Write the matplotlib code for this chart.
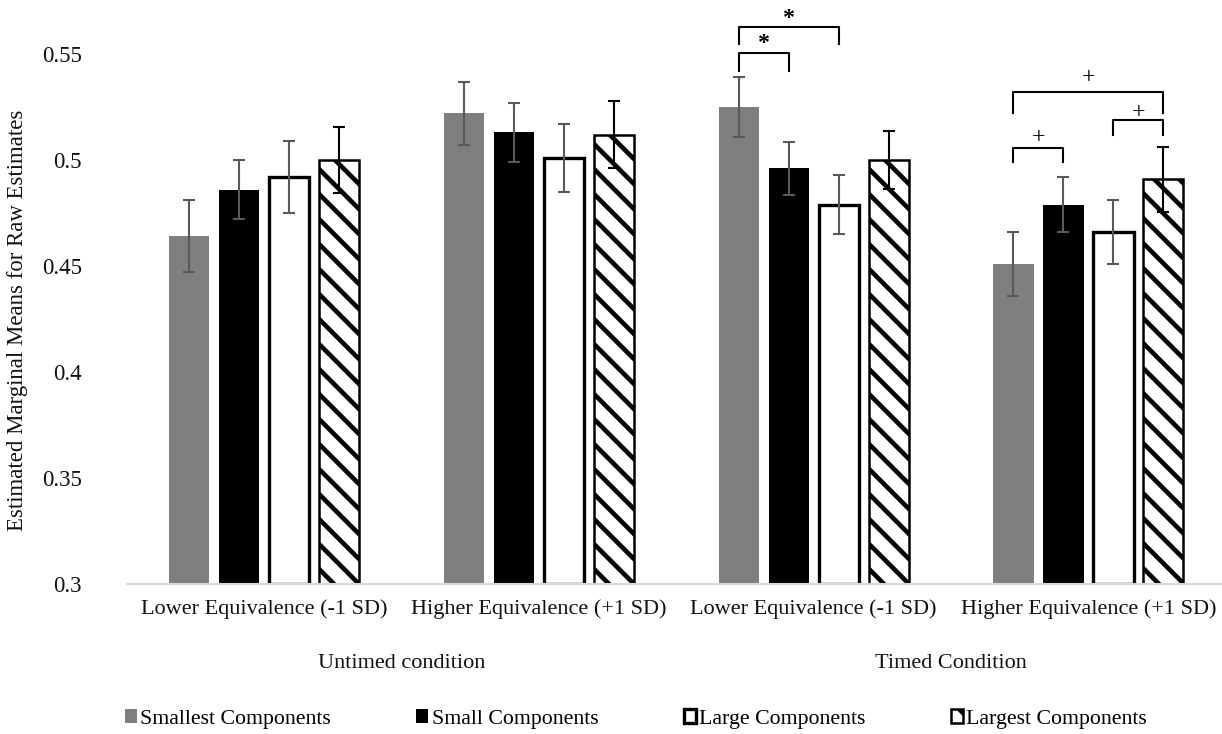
import matplotlib.pyplot as plt
import matplotlib.transforms as mtransforms
import numpy as np
from matplotlib.patches import Patch

categories = ["Lower Equivalence (-1 SD)", "Higher Equivalence (+1 SD)",
              "Lower Equivalence (-1 SD)", "Higher Equivalence (+1 SD)"]
conditions = ["Untimed condition", "Timed Condition"]
series_names = ["Smallest Components", "Small Components",
                "Large Components", "Largest Components"]

# estimated marginal means, one list per component size
smallest = [0.464, 0.522, 0.525, 0.451]
small = [0.486, 0.513, 0.496, 0.479]
large = [0.492, 0.501, 0.479, 0.466]
largest = [0.500, 0.512, 0.500, 0.491]

# error bar half-widths
smallest_err = [0.017, 0.015, 0.014, 0.015]
small_err = [0.014, 0.014, 0.0125, 0.013]
large_err = [0.017, 0.016, 0.014, 0.015]
largest_err = [0.0155, 0.016, 0.0135, 0.0153]

yticks = [0.3, 0.35, 0.4, 0.45, 0.5, 0.55]
ytick_labels = ["0.3", "0.35", "0.4", "0.45", "0.5", "0.55"]

# significance brackets: (category, bar a, bar b, bracket top, leg end, mark centre, mark)
brackets = [
    (2, 0, 1, 0.5506, 0.5420, 0.5579, "*"),
    (2, 0, 2, 0.5629, 0.5547, 0.5695, "*"),
    (3, 0, 1, 0.5057, 0.4992, 0.5110, "+"),
    (3, 2, 3, 0.5189, 0.5118, 0.5228, "+"),
    (3, 0, 3, 0.5322, 0.5223, 0.5392, "+"),
]

plt.rcParams["font.family"] = ["Liberation Serif", "DejaVu Serif"]
plt.rcParams["hatch.linewidth"] = 2.2
plt.rcParams["hatch.color"] = "black"

W, H, DPI = 1222, 734, 150
fig = plt.figure(figsize=(W / DPI, H / DPI), dpi=DPI)
ax = fig.add_axes([127 / W, 1 - 584 / H, (W - 127) / W, 583 / H])

x = np.arange(len(categories))
pitch = 0.182  # distance between bars inside a group
width = 0.146

values = [smallest, small, large, largest]
errors = [smallest_err, small_err, large_err, largest_err]
styles = [
    dict(facecolor="#7f7f7f", edgecolor="none", linewidth=0),
    dict(facecolor="black", edgecolor="black", linewidth=0),
    dict(facecolor="white", edgecolor="black", linewidth=1.6),
    dict(facecolor="white", edgecolor="black", linewidth=1.2, hatch="\\\\"),
]
err_colors = ["#595959", "#595959", "#595959", "black"]
base = 0.3

for j in range(4):
    pos = x + (j - 1.5) * pitch
    v = np.array(values[j])
    ax.bar(pos, v - base, width, bottom=base, zorder=2, **styles[j])
    ax.errorbar(pos, v, yerr=errors[j], fmt="none", ecolor=err_colors[j],
                elinewidth=1.0, capsize=2.9, capthick=1.0, zorder=3)

# significance brackets
mark_offset = {"*": 5.6, "+": 2.9}
for c, a, b, top, leg, mark_y, mark in brackets:
    x1 = x[c] + (a - 1.5) * pitch
    x2 = x[c] + (b - 1.5) * pitch
    ax.plot([x1, x1, x2, x2], [leg, top, top, leg], color="black", lw=1.0,
            solid_joinstyle="round", clip_on=False, zorder=4)
    ax.annotate(mark, xy=((x1 + x2) / 2, mark_y), xytext=(0, -mark_offset[mark]),
                textcoords="offset points", ha="center", va="baseline",
                fontsize=11.5, fontweight="bold" if mark == "*" else "normal",
                annotation_clip=False)

ax.set_xlim(-0.5, -0.5 + (W - 127) / 274.7)
ax.set_ylim(0.3, 0.575)
ax.set_yticks(yticks, ytick_labels)
ax.set_xticks(x, categories)
ax.tick_params(axis="y", length=0, pad=21.6, labelsize=11, labelcolor="#111111")
ax.tick_params(axis="x", length=0, pad=7.5, labelsize=10.7, labelcolor="#111111")

for side in ["left", "top", "right"]:
    ax.spines[side].set_visible(False)
ax.spines["bottom"].set_color("#d9d9d9")
ax.spines["bottom"].set_linewidth(1.0)

# condition labels under each pair of categories
trans = mtransforms.blended_transform_factory(ax.transData, fig.transFigure)
for k, name in enumerate(conditions):
    ax.text(2 * k + 0.5, 1 - 664 / H, name, transform=trans, ha="center",
            va="center", fontsize=10.7, color="#111111")

fig.text(18 / W, 1 - 320 / H, "Estimated Marginal Means for Raw Estimates",
         rotation=90, ha="center", va="center", fontsize=10.9, color="#111111")

handles = [Patch(label=name, **styles[j]) for j, name in enumerate(series_names)]
fig.legend(handles=handles, loc="center left", bbox_to_anchor=(125 / W, 1 - 719 / H),
           ncol=4, frameon=False, fontsize=10.5, handlelength=0.55, handleheight=0.55,
           handletextpad=0.15, columnspacing=3.9, borderpad=0, borderaxespad=0)

fig.savefig("out.png", dpi=DPI)
